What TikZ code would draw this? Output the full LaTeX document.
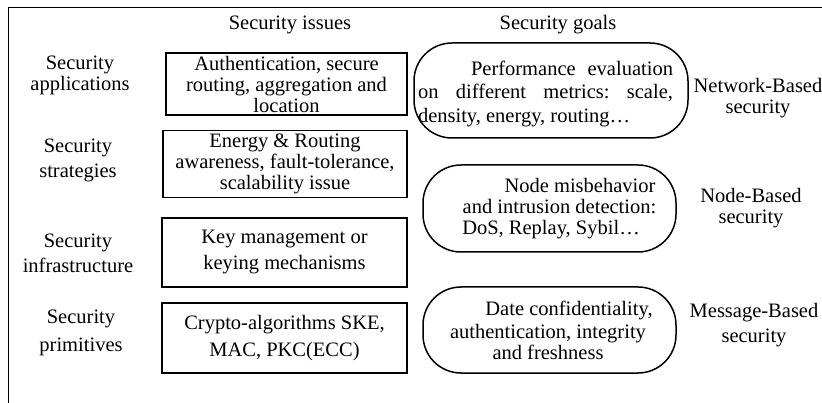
\documentclass[tikz,border=0pt]{standalone}
\usepackage{fontspec}
\setmainfont{Liberation Serif}
\begin{document}
\frenchspacing
\begin{tikzpicture}[x=1pt,y=-1pt,
  every node/.style={inner sep=0pt,outer sep=0pt,font=\fontsize{20.5}{21}\selectfont},
  lbl/.style={align=center},
  issuebox/.style={draw,line width=1.5pt,align=center},
  goalbox/.style={draw,line width=1.5pt,rounded corners=38pt},
  goaltext/.style={align=center}]
\useasboundingbox (0,0) rectangle (822,403);
\fill[white] (0,0) rectangle (822,403);
% frame
\coordinate (fTR) at (822,7.5);
\coordinate (fTL) at (8.5,7.5);
\coordinate (fBL) at (8.5,403);
\draw[line width=1.8pt] (fTR) -- (fTL) -- (fBL);
% headers
\node (hIss) at (290,25) {Security issues};
\node (hGoal) at (558,25) {Security goals};
% left labels
\node[lbl] (l1) at (80,75) {Security\\applications};
\node[lbl] (l2) at (78,160) {Security\\[4pt]strategies};
\node[lbl] (l3) at (78,253) {Security\\[4pt]infrastructure};
\node[lbl] (l4) at (81,333) {Security\\[7pt]primitives};
% issue boxes
\node[issuebox,minimum width=241pt,minimum height=62pt] (b1) at (286.5,84)
  {Authentication, secure\\routing, aggregation and\\location};
\node[issuebox,minimum width=244pt,minimum height=67pt] (b2) at (285,164)
  {Energy \& Routing\\awareness, fault-tolerance,\\scalability issue};
\node[issuebox,minimum width=245pt,minimum height=69pt] (b3) at (284.5,252.5)
  {Key management or\\[5pt]keying mechanisms};
\node[issuebox,minimum width=245pt,minimum height=70pt] (b4) at (284.5,338)
  {Crypto-algorithms SKE,\\[6pt]MAC, PKC(ECC)};
% goal boxes
\node[goalbox,minimum width=274pt,minimum height=95pt] (g1) at (551,90.5) {};
\node[goaltext,font=\fontsize{20.5}{23.5}\selectfont] (g1t) at (545.5,93.5)
  {\makebox[255pt][s]{\hspace*{53pt}Performance evaluation}\\
   \makebox[255pt][s]{on different metrics: scale,}\\
   \makebox[255pt][l]{density, energy, routing…}};
\node[goalbox,minimum width=253pt,minimum height=87pt] (g2) at (549.5,208.5) {};
\node[goaltext] (g2t) at (559.5,209)
  {\hspace*{41pt}Node misbehavior\\and intrusion detection:\\DoS, Replay, Sybil…\hspace*{17pt}};
\node[goalbox,minimum width=253pt,minimum height=86pt] (g3) at (549.5,330) {};
\node[goaltext] (g3t) at (548,330.5)
  {\hspace*{42pt}Date confidentiality,\\[2pt]authentication, integrity\\and freshness};
% right labels
\node[lbl] (r1) at (758,98) {Network-Based\\security};
\node[lbl] (r2) at (751,208.5) {Node-Based\\security};
\node[lbl] (r3) at (754,325.5) {Message-Based\\[4pt]security};
\end{tikzpicture}
\end{document}
